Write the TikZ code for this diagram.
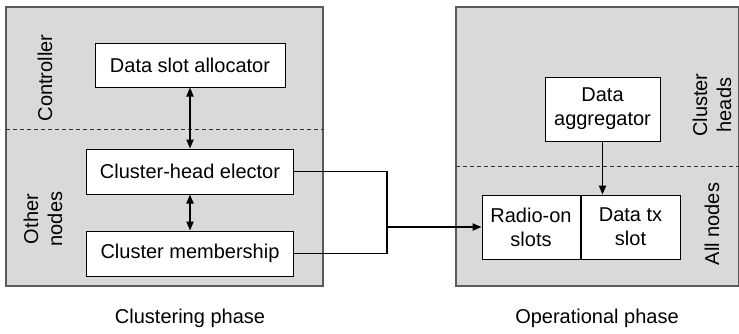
\documentclass[tikz,border=0pt]{standalone}
\usepackage{fontspec}
\setmainfont{Liberation Sans}
\usepackage{tikz}
\usetikzlibrary{positioning,arrows.meta}
\definecolor{panelgray}{RGB}{217,217,217}
\definecolor{edgegray}{RGB}{90,90,90}

\begin{document}
\begin{tikzpicture}[
  x=0.5pt, y=-0.5pt,
  font=\fontsize{10}{12}\selectfont,
  panel/.style={fill=panelgray, draw=edgegray, line width=0.6pt},
  split/.style={draw=black!80, line width=0.4pt, dash pattern=on 2pt off 1.5pt},
  box/.style={rectangle, draw=black, fill=white, line width=0.5pt, align=center,
              inner sep=1pt},
  side/.style={rotate=90, align=center},
  conn/.style={line width=0.75pt},
  >={Triangle[length=4.5pt,width=3.6pt]}
]
  \useasboundingbox (0,0) rectangle (739,333);
  % phase panels
  \draw[panel] (6,7) rectangle (323,286);
  \draw[panel] (456,7) rectangle (738.6,286);
  \draw[split] (6,129) -- (323,129);
  \draw[split] (456,166) -- (738.6,166);

  \node[side](L1) at (45,78){Controller};
  \node[side](L2) at (43,219){Other\\nodes};
  \node[side](L3) at (712,105){Cluster\\heads};
  \node[side](L4) at (712,224){All nodes};

  \node[box, minimum width=95pt, minimum height=22pt](A) at (190,65){Data slot allocator};
  \node[box, minimum width=103.5pt, minimum height=22.5pt, below=30.5pt of A](B){Cluster-head elector};
  \node[box, minimum width=103.5pt, minimum height=22.5pt, below=18pt of B](C){Cluster membership};

  \node[box, minimum width=57.5pt, minimum height=32pt](D) at (602.5,109){Data\\aggregator};
  \node[box, minimum width=49pt, minimum height=32pt](E) at (531,227){Radio-on\\slots};
  \node[box, minimum width=49.5pt, minimum height=32pt, right=0pt of E](F){Data tx\\slot};

  \node(P1) at (190,318){Clustering phase};
  \node(P2) at (597,318){Operational phase};

  \coordinate (J) at (387,227);
  \draw[<->,conn](A)--(B);
  \draw[<->,conn](B)--(C);
  \draw[conn](B.east)-|(J)|-(C.east);
  \draw[->,conn](J)--(E);
  \draw[->,conn](D.south)--(D.south |- F.north);
\end{tikzpicture}
\end{document}
